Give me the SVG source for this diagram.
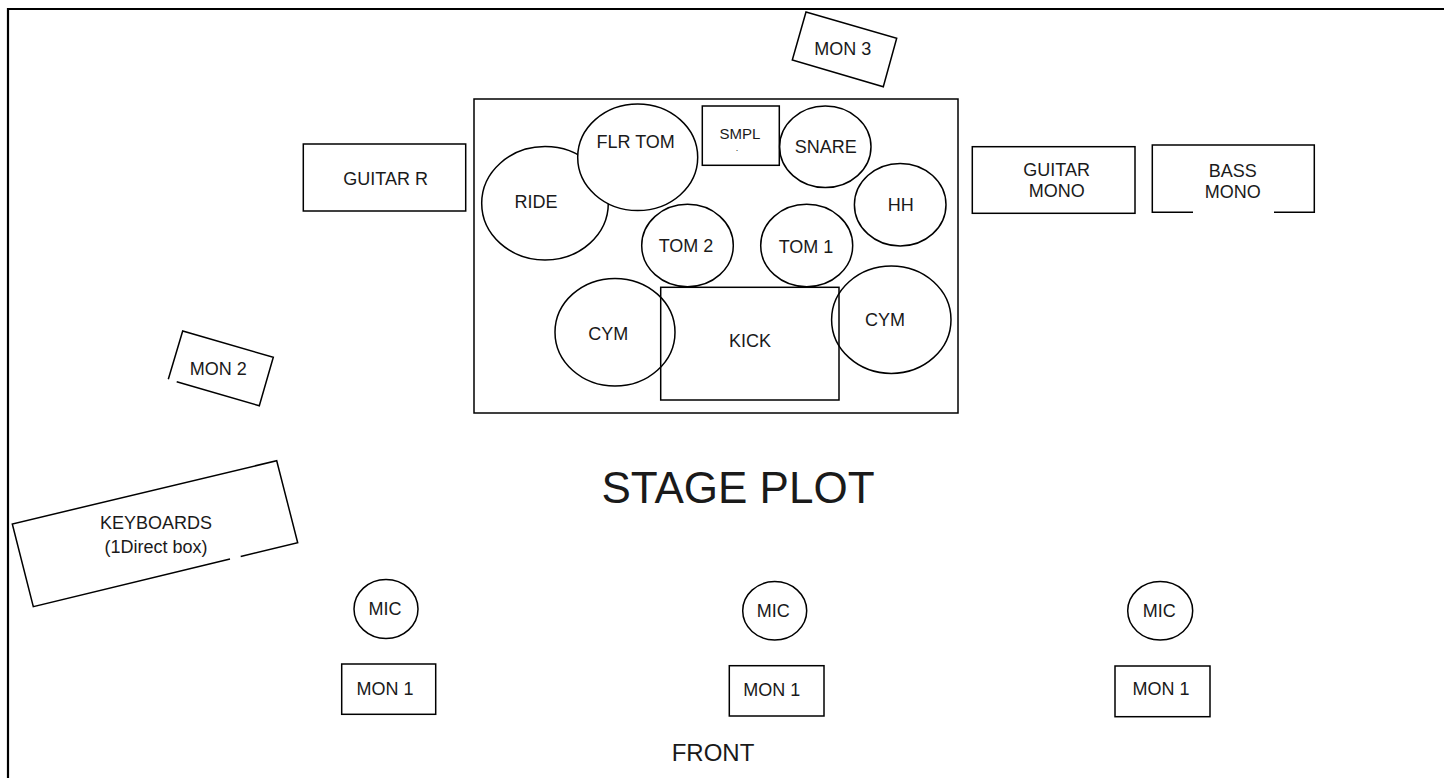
<svg xmlns="http://www.w3.org/2000/svg" width="1444" height="778" viewBox="0 0 1444 778">
<style>
.s{fill:none;stroke:#000;stroke-width:1.5}
.w{fill:#fff;stroke:#000;stroke-width:1.5}
text{font-family:"Liberation Sans",Arial,sans-serif;font-size:18px;fill:#1a1a1a;text-anchor:middle}
.sm{font-size:15px}
.dot{font-size:9px}
.big{font-size:44px}
.fr{font-size:24px}
</style>
<rect width="1444" height="778" fill="#fff"/>
<g id="frame"><path d="M8 778 V9 H1444" fill="none" stroke="#000" stroke-width="2.2"/></g>
<g id="drum-riser"><rect class="s" x="474" y="99" width="484" height="314"/></g>
<g id="ride"><ellipse class="w" cx="545" cy="203.3" rx="63.3" ry="56.7"/><text x="536" y="208">RIDE</text></g>
<g id="flr-tom"><ellipse class="w" cx="637.7" cy="157.3" rx="60" ry="53.3"/><text x="635.7" y="148">FLR TOM</text></g>
<g id="smpl"><rect class="s" x="702.3" y="106" width="77" height="59.3"/><text class="sm" x="740" y="139">SMPL</text><text class="dot" x="737" y="151">.</text></g>
<g id="snare"><ellipse class="s" cx="825.3" cy="146.8" rx="45.7" ry="40.8"/><text x="825.7" y="153">SNARE</text></g>
<g id="hh"><ellipse class="s" cx="900.2" cy="204.7" rx="45.8" ry="41.3"/><text x="900.7" y="211.4">HH</text></g>
<g id="tom2"><ellipse class="s" cx="687.5" cy="245.5" rx="45.8" ry="41.2"/><text x="686" y="252">TOM 2</text></g>
<g id="tom1"><ellipse class="s" cx="806.7" cy="245.5" rx="46" ry="41.2"/><text x="806" y="253">TOM 1</text></g>
<g id="kick"><rect class="s" x="660.7" y="287.3" width="178.3" height="112.7"/><text x="750" y="347">KICK</text></g>
<g id="cym-left"><ellipse class="s" cx="615" cy="332.2" rx="60" ry="53.8"/><text x="608.3" y="339.7">CYM</text></g>
<g id="cym-right"><ellipse class="s" cx="891.3" cy="319.7" rx="59.7" ry="53.7"/><text x="885" y="325.7">CYM</text></g>
<g id="mon3"><path class="s" d="M806 12 L896.7 38.3 L883.3 86.7 L792.3 60 Z"/><text x="842.7" y="55.4">MON 3</text></g>
<g id="guitar-r"><rect class="s" x="303.3" y="144" width="162.4" height="67"/><text x="385.7" y="184.7">GUITAR R</text></g>
<g id="guitar-mono"><rect class="s" x="972.3" y="146.7" width="162.7" height="66.6"/><text x="1056.7" y="176.4">GUITAR</text><text x="1056.7" y="197.4">MONO</text></g>
<g id="bass-mono"><path class="s" d="M1193 212.3 H1152.3 V145 H1314.3 V212.3 H1274"/><text x="1232.7" y="177.4">BASS</text><text x="1232.7" y="198.4">MONO</text></g>
<g id="mon2"><path class="s" d="M176.7 381.7 L259.3 405.7 L273.3 357.3 L182.7 331 L168.3 379.3"/><text x="218.3" y="374.7">MON 2</text></g>
<g id="keyboards"><path class="s" d="M230 559.1 L33.3 606.7 L12.3 524 L276.7 460.7 L297.7 542.7 L240.7 556.5"/><text x="156" y="529">KEYBOARDS</text><text x="156" y="553">(1Direct box)</text></g>
<g id="mic-1"><ellipse class="s" cx="386" cy="609" rx="32" ry="29.5"/><text x="385" y="615.4">MIC</text></g>
<g id="mic-2"><ellipse class="s" cx="774.7" cy="610.8" rx="32" ry="29.2"/><text x="773.3" y="617.4">MIC</text></g>
<g id="mic-3"><ellipse class="s" cx="1160.2" cy="610.8" rx="32.5" ry="29.2"/><text x="1159.3" y="617.4">MIC</text></g>
<g id="mon1-1"><rect class="s" x="341.7" y="664" width="94" height="50.3"/><text x="385" y="694.7">MON 1</text></g>
<g id="mon1-2"><rect class="s" x="729.3" y="665.7" width="94.7" height="50.3"/><text x="771.7" y="696.4">MON 1</text></g>
<g id="mon1-3"><rect class="s" x="1115" y="666" width="95" height="50.7"/><text x="1161" y="695.4">MON 1</text></g>
<g id="title"><text class="big" x="738" y="503">STAGE PLOT</text></g>
<g id="front"><text class="fr" x="713" y="760.6">FRONT</text></g>
<g id="connectors"/>
</svg>
